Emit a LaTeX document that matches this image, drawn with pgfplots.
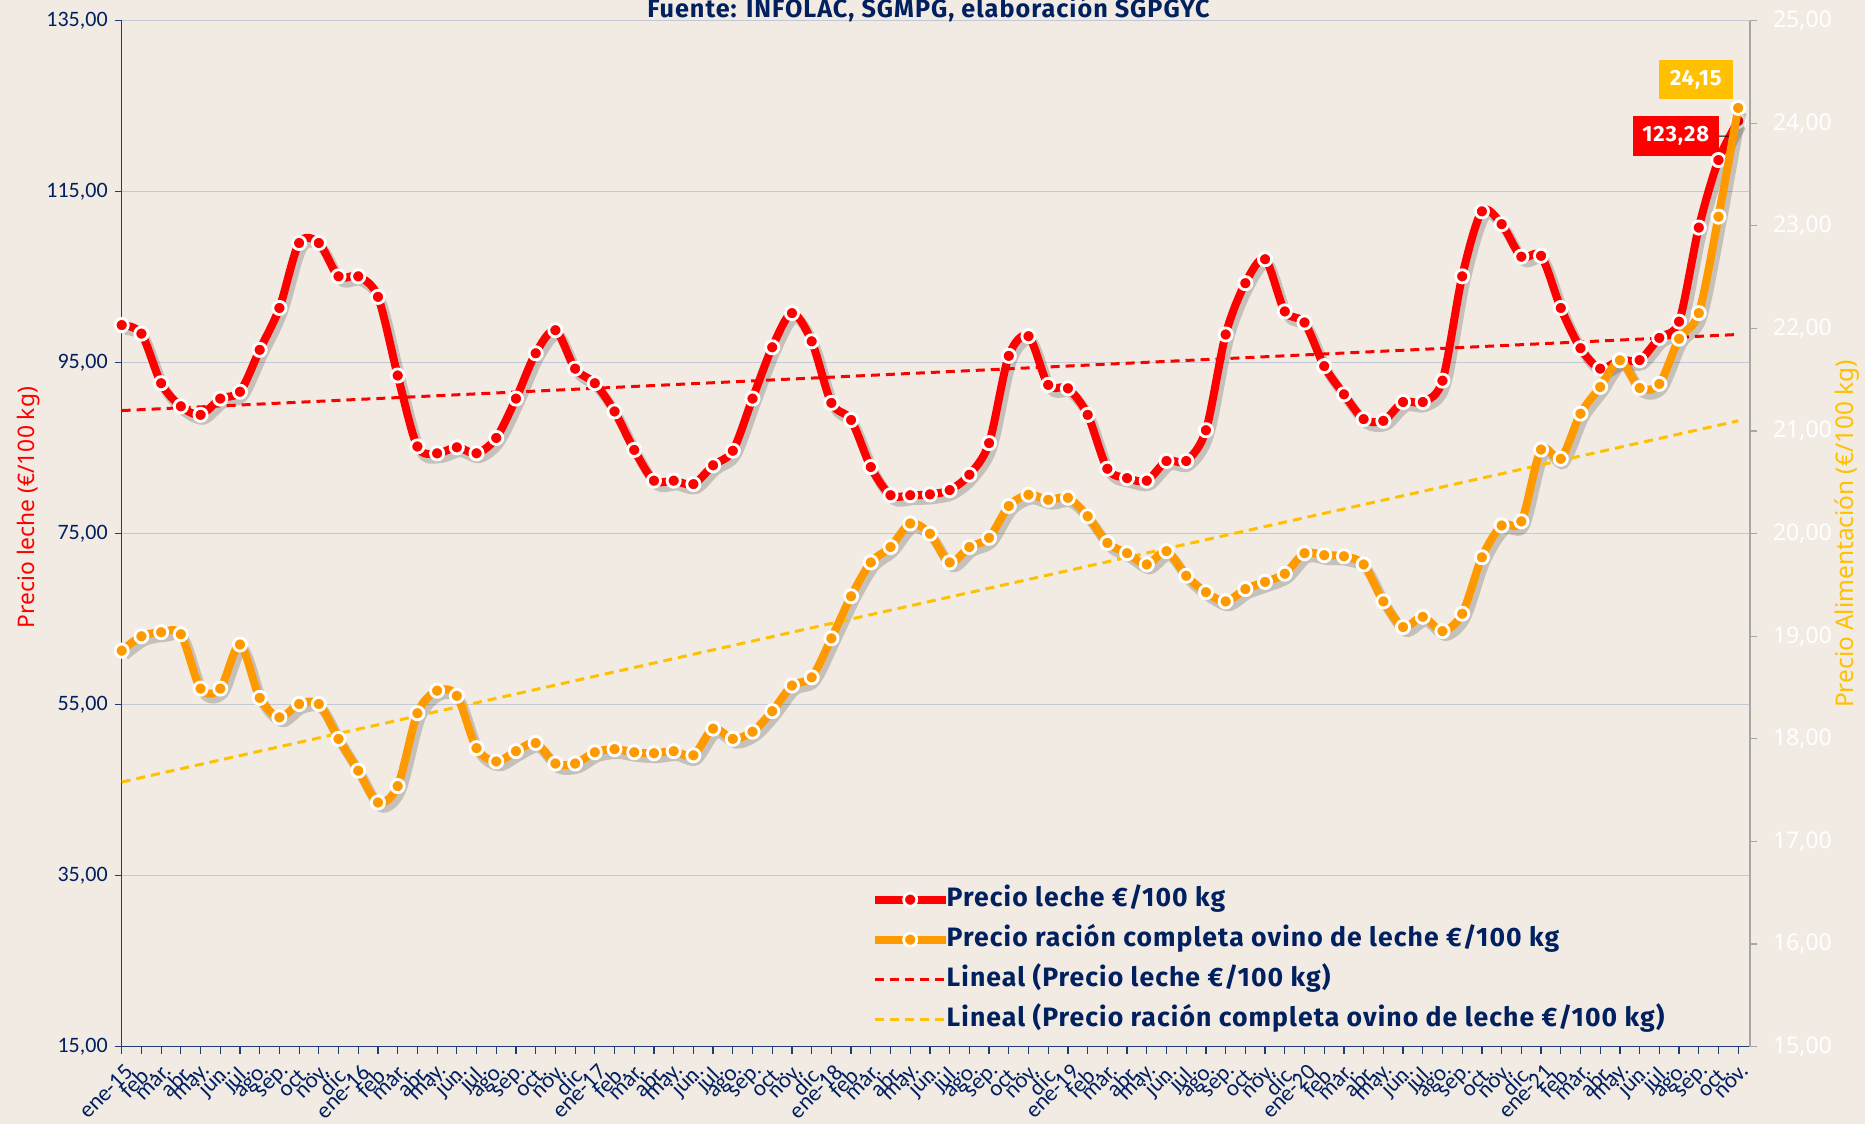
\documentclass[border=0pt]{standalone}
\usepackage{pgfplots}
\pgfplotsset{compat=1.18}
\usepackage{pgfplotstable}
\usepackage{fontspec}
\setmainfont{Noto Sans}
\newfontfamily\carlito{Carlito}
\newfontfamily\bsans{Fira Sans}[LetterSpace=4]
\definecolor{navy}{HTML}{002060}
\definecolor{bgc}{HTML}{F2EBE3}
\definecolor{orng}{HTML}{FF9900}
\definecolor{ylw}{HTML}{FFC000}
\definecolor{gridc}{HTML}{C4C7D4}
\definecolor{axnavy}{HTML}{1F3B78}
\definecolor{axgray}{HTML}{A6A6A6}

\pgfplotstableread{
k leche racion
0 99.4 18.86
1 98.4 19.00
2 92.6 19.04
3 89.9 19.02
4 88.9 18.49
5 90.8 18.49
6 91.6 18.92
7 96.5 18.40
8 101.4 18.21
9 109.0 18.34
10 109.0 18.34
11 105.1 18.00
12 105.1 17.69
13 102.7 17.38
14 93.5 17.54
15 85.2 18.25
16 84.4 18.47
17 85.1 18.42
18 84.4 17.91
19 86.2 17.78
20 90.8 17.88
21 96.1 17.96
22 98.8 17.76
23 94.3 17.76
24 92.6 17.87
25 89.3 17.90
26 84.8 17.87
27 81.2 17.86
28 81.2 17.88
29 80.8 17.84
30 83.0 18.10
31 84.7 18.00
32 90.8 18.07
33 96.8 18.27
34 100.8 18.52
35 97.5 18.60
36 90.3 18.98
37 88.3 19.39
38 82.8 19.72
39 79.5 19.87
40 79.5 20.10
41 79.6 20.00
42 80.1 19.72
43 81.9 19.87
44 85.6 19.96
45 95.8 20.27
46 98.1 20.38
47 92.4 20.33
48 92.0 20.35
49 88.9 20.17
50 82.6 19.91
51 81.5 19.81
52 81.2 19.70
53 83.5 19.83
54 83.5 19.59
55 87.1 19.43
56 98.3 19.34
57 104.3 19.46
58 107.1 19.53
59 101.0 19.61
60 99.7 19.81
61 94.6 19.79
62 91.3 19.78
63 88.4 19.70
64 88.2 19.34
65 90.4 19.09
66 90.4 19.19
67 92.9 19.05
68 105.1 19.22
69 112.7 19.77
70 111.2 20.08
71 107.4 20.12
72 107.5 20.82
73 101.4 20.73
74 96.7 21.17
75 94.3 21.43
76 95.3 21.69
77 95.3 21.42
78 97.9 21.46
79 99.8 21.90
80 110.8 22.15
81 118.7 23.09
82 123.28 24.15
}\datos

\pgfplotsset{
  common/.style={
    at={(0,0)}, anchor=south west,
    scale only axis, width=814.15pt, height=513pt,
    xmin=0, xmax=82.6, clip=false,
    tick align=outside, major tick length=3.5pt,
  },
  serie/.style={line width=4pt, smooth, tension=0.5, mark=*, mark size=3.3pt,
    mark options={fill=#1, draw=white, line width=1.4pt, solid}},
  sombra/.style={black, opacity=0.18, line width=5pt, smooth, tension=0.5, xshift=1.6pt, yshift=-2.4pt, forget plot},
}

\begin{document}
\begin{tikzpicture}
\fill[bgc] (-60.85pt,-38.65pt) rectangle (871.65pt,523.35pt);
\begin{axis}[common,
  ymin=15, ymax=135,
  axis y line*=left, axis x line*=bottom,
  axis line style={axnavy, line width=0.8pt},
  every tick/.style={axnavy, line width=0.6pt},
  ymajorgrids, grid style={gridc, line width=0.8pt},
  ytick={15,35,55,75,95,115,135},
  yticklabels={{15,00},{35,00},{55,00},{75,00},{95,00},{115,00},{135,00}},
  yticklabel style={font=\carlito\fontsize{11}{12}\selectfont, text=navy},
  xtick={0,...,82},
  xticklabels={ene-15,feb.,mar.,abr.,may.,jun.,jul.,ago.,sep.,oct.,nov.,dic.,
    ene-16,feb.,mar.,abr.,may.,jun.,jul.,ago.,sep.,oct.,nov.,dic.,
    ene-17,feb.,mar.,abr.,may.,jun.,jul.,ago.,sep.,oct.,nov.,dic.,
    ene-18,feb.,mar.,abr.,may.,jun.,jul.,ago.,sep.,oct.,nov.,dic.,
    ene-19,feb.,mar.,abr.,may.,jun.,jul.,ago.,sep.,oct.,nov.,dic.,
    ene-20,feb.,mar.,abr.,may.,jun.,jul.,ago.,sep.,oct.,nov.,dic.,
    ene-21,feb.,mar.,abr.,may.,jun.,jul.,ago.,sep.,oct.,nov.},
  xticklabel style={font=\carlito\fontsize{11.5}{12}\selectfont, text=navy, xshift=4.5pt, yshift=-6.5pt, rotate=45, anchor=east, inner sep=1pt},
]
\addplot[sombra] table[x=k,y=leche]{\datos};
\addplot[red, line width=1.5pt, dash pattern=on 4.5pt off 3pt, forget plot] coordinates {(0,89.4) (82,98.3)};
\addplot[red, serie=red, forget plot] table[x=k,y=leche]{\datos};
\node[fill=red, text=white, font=\bsans\bfseries\fontsize{11}{12}\selectfont, minimum width=43pt, minimum height=20pt, inner sep=0pt]
  at ([shift={(-31.2pt,-7.6pt)}]axis cs:82,123.28) {123,28};
\draw[black, line width=0.5pt] ([shift={(-9.7pt,-7.6pt)}]axis cs:82,123.28) -- ([shift={(-3.5pt,-7.6pt)}]axis cs:82,123.28) -- ([shift={(0.6pt,0.4pt)}]axis cs:82,123.28);
\node[rotate=90, text=red, font=\fontsize{11.4}{12}\selectfont] at (axis description cs:-0.0575,0.5255) {Precio leche (€/100 kg)};
\end{axis}
\begin{axis}[common,
  ymin=15, ymax=25,
  axis y line*=right, axis x line=none,
  axis line style={axgray, line width=0.8pt},
  every tick/.style={axgray, line width=0.6pt},
  ytick={15,16,...,25},
  yticklabels={{15,00},{16,00},{17,00},{18,00},{19,00},{20,00},{21,00},{22,00},{23,00},{24,00},{25,00}},
  yticklabel style={font=\fontsize{11.5}{12}\selectfont, text=white, xshift=4.5pt},
  legend style={at={(axis description cs:0.4600,0.156)}, anchor=north west, draw=none, fill=none,
    inner sep=0pt, outer sep=0pt, font=\bsans\bfseries\fontsize{13.3}{15}\selectfont, text=navy,
    row sep=7pt, nodes={inner sep=0pt, text height=10pt, text depth=3pt},
    /tikz/every odd column/.style={column sep=-1.5pt}, cells={anchor=west}},
  legend image code/.code={\draw[mark repeat=2, mark phase=2, #1] plot coordinates {(0pt,0pt) (17.75pt,0pt) (35.5pt,0pt)};},
]
\addlegendimage{red, line width=4pt, mark=*, mark size=3.3pt, mark options={fill=red, draw=white, line width=1.4pt, solid}}
\addlegendentry{Precio leche €/100 kg}
\addplot[sombra] table[x=k,y=racion]{\datos};
\addplot[ylw, line width=1.5pt, dash pattern=on 4.5pt off 3pt, forget plot] coordinates {(0,17.58) (82,21.10)};
\addplot[orng, serie=orng] table[x=k,y=racion]{\datos};
\addlegendentry{Precio ración completa ovino de leche €/100 kg}
\addlegendimage{red, line width=1.5pt, dash pattern=on 4.5pt off 3pt}
\addlegendentry{Lineal (Precio leche €/100 kg)}
\addlegendimage{ylw, line width=1.5pt, dash pattern=on 4.5pt off 3pt}
\addlegendentry{Lineal (Precio ración completa ovino de leche €/100 kg)}
\node[fill=ylw, text=white, font=\bsans\bfseries\fontsize{11}{12}\selectfont, minimum width=37pt, minimum height=19.5pt, inner sep=0pt]
  at ([shift={(-21.15pt,14.2pt)}]axis cs:82,24.15) {24,15};
\node[rotate=90, text=ylw, font=\fontsize{12.2}{13}\selectfont] at (axis description cs:1.0596,0.4997) {Precio Alimentación (€/100 kg)};
\end{axis}
\node[anchor=base, text=navy, font=\bsans\bfseries\fontsize{12.6}{13}\selectfont] at (403.4pt,514.35pt) {Fuente: INFOLAC, SGMPG, elaboración SGPGYC};
\pgfresetboundingbox
\path[use as bounding box] (-60.85pt,-38.65pt) rectangle (871.65pt,523.35pt);
\end{tikzpicture}
\end{document}
